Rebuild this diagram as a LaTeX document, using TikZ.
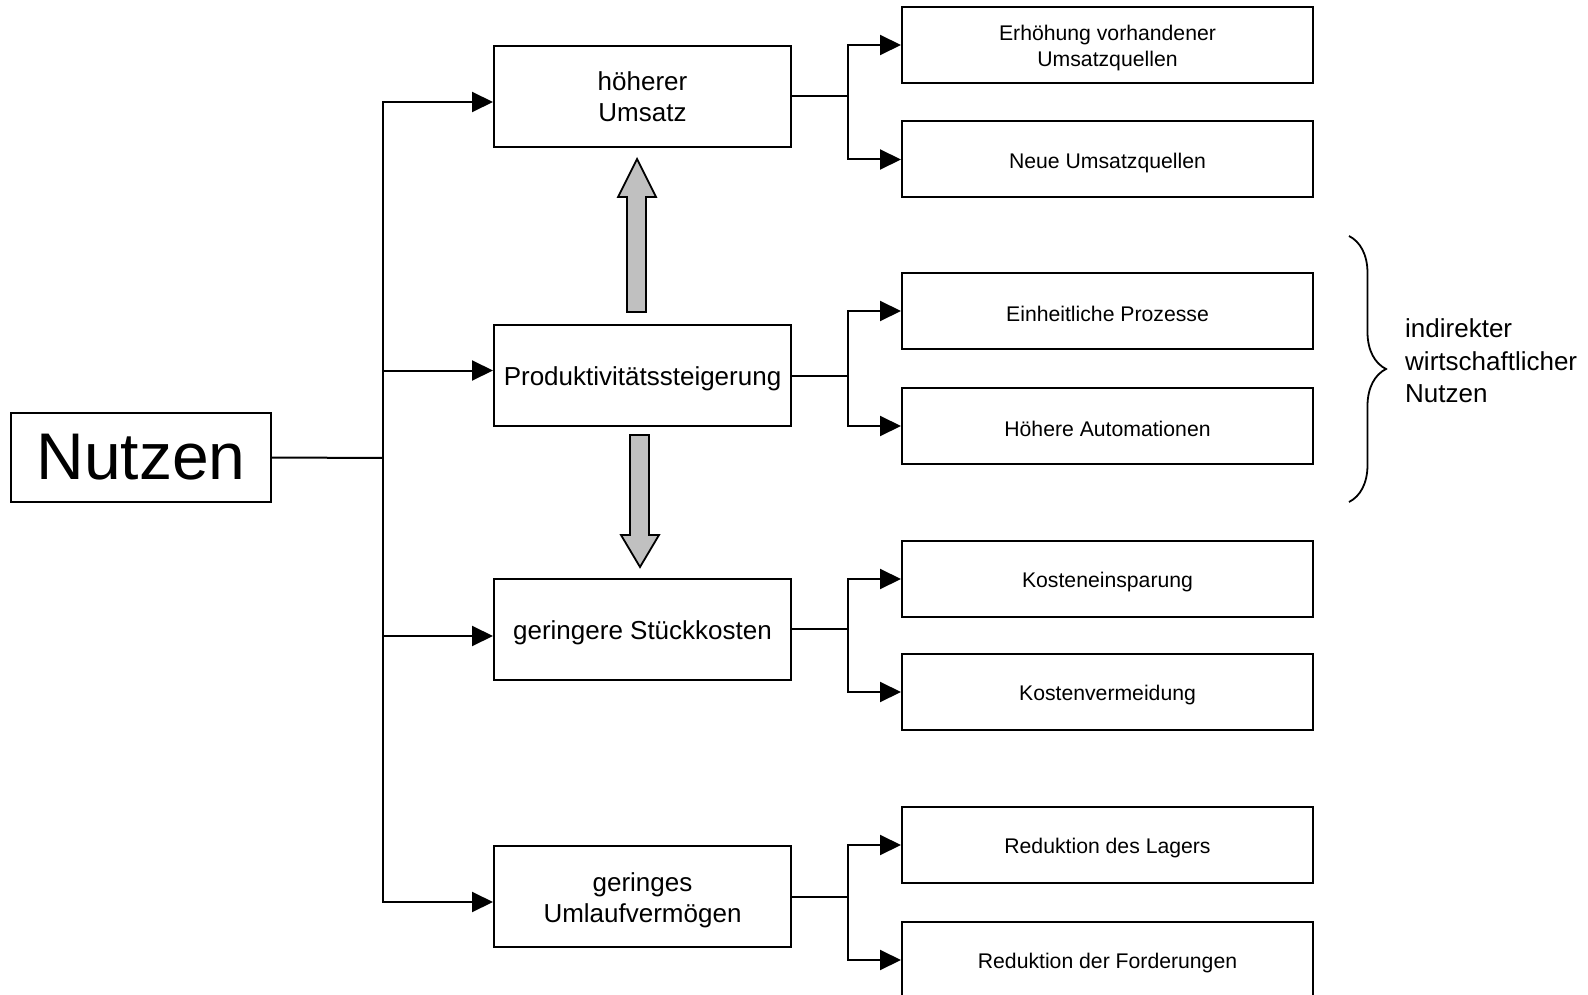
\documentclass[tikz,border=0pt]{standalone}
\usepackage{fontspec}
\setmainfont{Liberation Sans}
\usetikzlibrary{arrows.meta,positioning,decorations.pathreplacing}
\definecolor{BlockGray}{RGB}{192,192,192}

\tikzset{
  mainbox/.style={draw,line width=2pt,minimum width=297pt,minimum height=101pt,
    align=center,font=\fontsize{26}{31.5}\selectfont,inner sep=0pt,
    execute at begin node={\rule{0pt}{25.5pt}}},
  subbox/.style={draw,line width=2pt,minimum width=411pt,minimum height=76pt,
    align=center,font=\fontsize{21.2}{26}\selectfont,inner sep=0pt,
    execute at begin node={\rule{0pt}{22pt}}},
  pfeil/.style={line width=2pt,-{Triangle[length=21pt,width=20pt]}},
  block/.style={draw,line width=1.8pt,fill=BlockGray,line join=miter}
}

\begin{document}
\begin{tikzpicture}[x=1pt,y=-1pt]
  \useasboundingbox (0,0) rectangle (1588,995);
  % root
  \node[draw,line width=2pt,minimum width=260pt,minimum height=89pt,inner sep=0pt,
        font=\fontsize{66}{66}\selectfont] (nutzen) at (141,457.5) {Nutzen};
  % middle level
  \node[mainbox] (umsatz) at (642.5,96.5) {höherer\\Umsatz};
  \node[mainbox] (prod) at (642.5,375.5) {Produktivitätssteigerung};
  \node[mainbox] (kosten) at (642.5,629) {geringere Stückkosten};
  \node[mainbox] (umlauf) at (642.5,896.5) {\rule{0pt}{26pt}geringes\\Umlaufvermögen};
  % right level
  \node[subbox] (erh) at (1107.5,45) {\rule{0pt}{22pt}Erhöhung vorhandener\\Umsatzquellen};
  \node[subbox] (neue) at (1107.5,159.5) {Neue Umsatzquellen};
  \node[subbox] (einh) at (1107.5,311) {Einheitliche Prozesse};
  \node[subbox] (autom) at (1107.5,426) {Höhere Automationen};
  \node[subbox] (einsp) at (1107.5,579) {Kosteneinsparung};
  \node[subbox] (verm) at (1107.5,692) {Kostenvermeidung};
  \node[subbox] (lager) at (1107.5,845) {Reduktion des Lagers};
  \node[subbox] (ford) at (1107.5,960) {Reduktion der Forderungen};
  % trunk from root
  \coordinate (trunk) at (383,458);
  \draw[line width=2pt] (nutzen.east) -- (trunk);
  \draw[pfeil] (trunk) |- ([yshift=-5.5pt]umsatz.west);
  \draw[pfeil] (trunk) |- ([yshift=5pt]prod.west);
  \draw[pfeil] (trunk) |- ([yshift=-7pt]kosten.west);
  \draw[pfeil] (trunk) |- ([yshift=-5.5pt]umlauf.west);
  % branches to the right
  \draw[pfeil] (umsatz.east) -- ++(56,0) |- (erh.west);
  \draw[pfeil] (umsatz.east) -- ++(56,0) |- (neue.west);
  \draw[pfeil] (prod.east) -- ++(56,0) |- (einh.west);
  \draw[pfeil] (prod.east) -- ++(56,0) |- (autom.west);
  \draw[pfeil] (kosten.east) -- ++(56,0) |- (einsp.west);
  \draw[pfeil] (kosten.east) -- ++(56,0) |- (verm.west);
  \draw[pfeil] (umlauf.east) -- ++(56,0) |- (lager.west);
  \draw[pfeil] (umlauf.east) -- ++(56,0) |- (ford.west);
  % gray block arrows
  \draw[block] (627,312) -- (627,197) -- (618,197) -- (637,159) -- (656,197)
    -- (646,197) -- (646,312) -- cycle;
  \draw[block] (630,435) -- (630,535) -- (621,535) -- (640,567) -- (659,535)
    -- (649,535) -- (649,435) -- cycle;
  % brace
  \draw[line width=1.8pt,decorate,decoration={brace,amplitude=37pt,aspect=0.5}]
    (1349,236) -- (1349,502);
  \node[anchor=west,align=left,inner sep=0pt,font=\fontsize{26}{32.5}\selectfont]
    (indirekt) at (1405,361) {indirekter\\wirtschaftlicher\\Nutzen};
\end{tikzpicture}
\end{document}
